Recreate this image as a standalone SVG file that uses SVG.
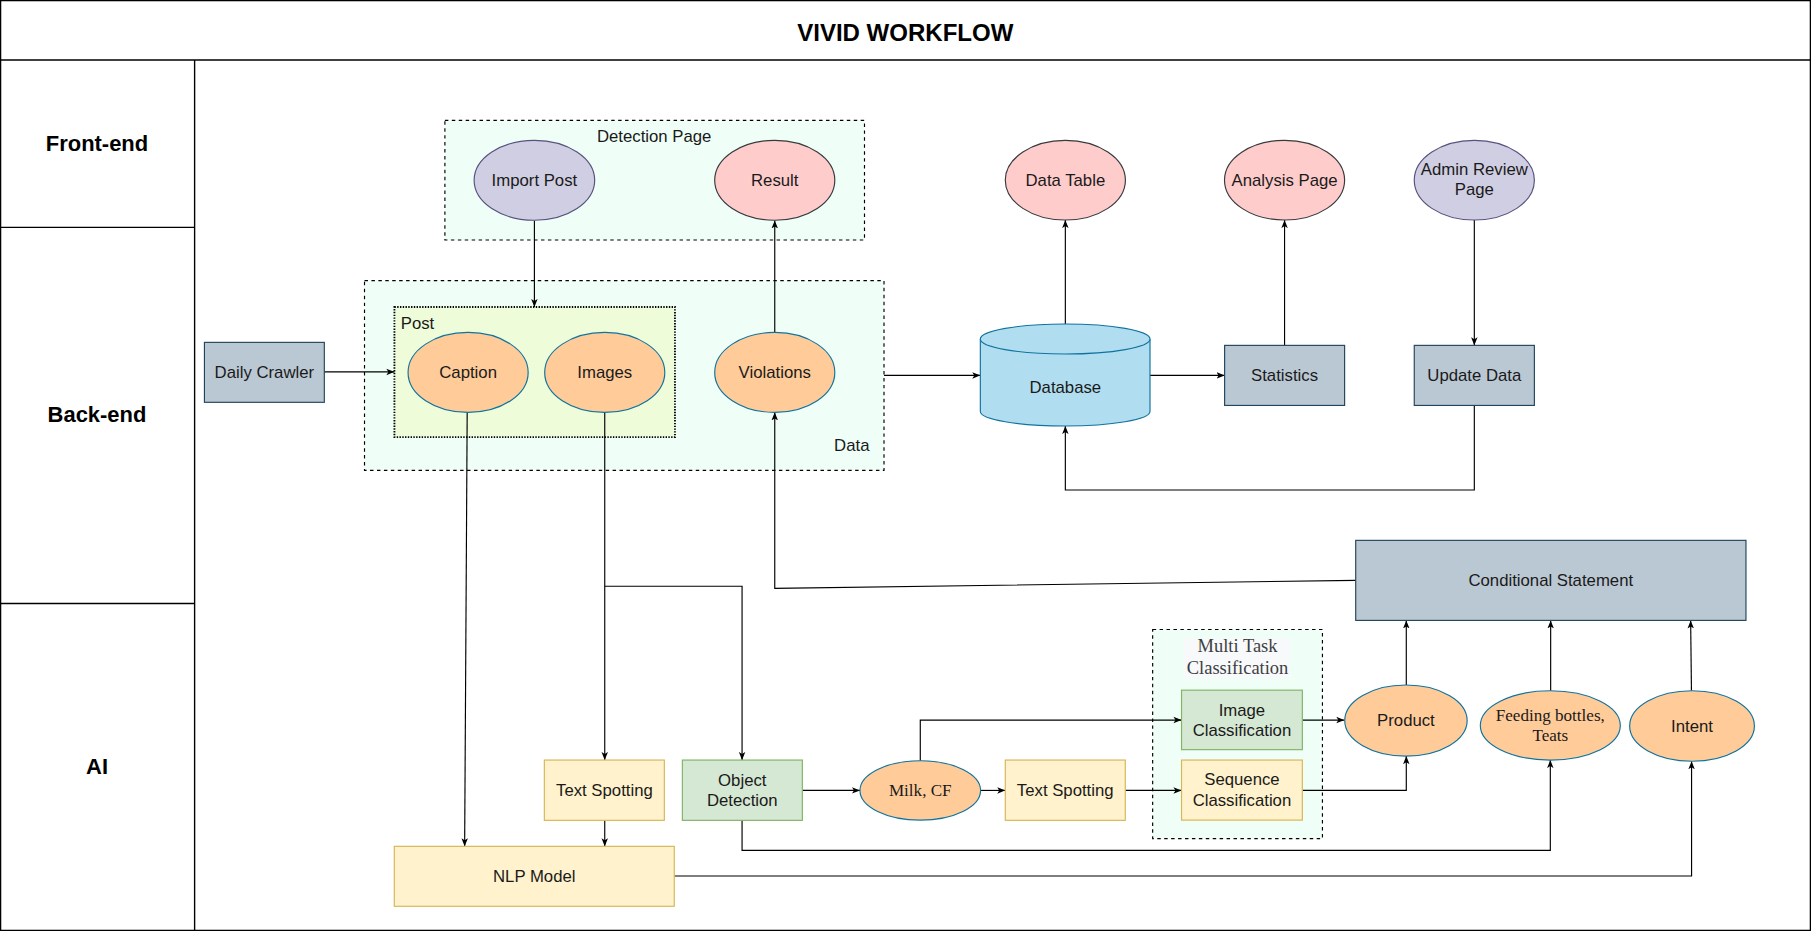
<svg xmlns="http://www.w3.org/2000/svg" width="1811" height="931" viewBox="0 0 1811 931">
<defs>
<marker id="arr" viewBox="0 0 10 10" refX="10" refY="5" markerWidth="7" markerHeight="7" orient="auto" markerUnits="userSpaceOnUse">
<path d="M0,1 L10,5 L0,9 L2.5,5 Z" fill="#000"/>
</marker>
<style>
.t{font-family:"Liberation Sans",Arial,sans-serif;font-size:14.5px;fill:#1a1a1a;text-anchor:middle}
.s{font-family:"Liberation Serif","Times New Roman",serif;font-size:14.8px;fill:#1a1a1a;text-anchor:middle}
.lane{font-family:"Liberation Sans",Arial,sans-serif;font-size:19px;font-weight:bold;fill:#000;text-anchor:middle}
.ln{fill:none;stroke:#000;stroke-width:1}
.cn{fill:none;stroke:#000;stroke-width:1;marker-end:url(#arr)}
.purple{fill:#D0CEE2;stroke:#56517E;stroke-width:1}
.pink{fill:#FFCCCC;stroke:#36393D;stroke-width:1}
.orange{fill:#FFCC99;stroke:#10739E;stroke-width:1}
.gray{fill:#BAC8D3;stroke:#23445D;stroke-width:1}
.green{fill:#D5E8D4;stroke:#82B366;stroke-width:1}
.yellow{fill:#FFF2CC;stroke:#D6B656;stroke-width:1}
.db{fill:#B1DDF0;stroke:#10739E;stroke-width:1}
.cont{fill:#EFFFF7;stroke:#000;stroke-width:1;stroke-dasharray:3 3}
.post{fill:#EEFCDA;stroke:#000;stroke-width:1.6;stroke-dasharray:1.2 1.2}
</style>
</defs>
<rect x="0" y="0" width="1811" height="931" fill="#fff"/>
<g transform="scale(1.15497,1.15509)">
<g id="frame">
<rect x="0.5" y="0.5" width="1567" height="805" fill="none" stroke="#000" stroke-width="1.2"/>
<line x1="0" y1="52" x2="1568" y2="52" stroke="#000" stroke-width="1.2"/>
<line x1="168.5" y1="52" x2="168.5" y2="806" stroke="#000" stroke-width="1.2"/>
<line x1="0" y1="196.8" x2="168.5" y2="196.8" stroke="#000" stroke-width="1.2"/>
<line x1="0" y1="522.5" x2="168.5" y2="522.5" stroke="#000" stroke-width="1.2"/>
<text x="783.8" y="35.2" style="font-family:'Liberation Sans',Arial,sans-serif;font-size:20.8px;font-weight:bold;text-anchor:middle">VIVID WORKFLOW</text>
<text class="lane" x="84" y="130.5">Front-end</text>
<text class="lane" x="84" y="365">Back-end</text>
<text class="lane" x="84" y="670.5">AI</text>
</g>

<g id="detection-page">
<rect class="cont" x="385.2" y="104.2" width="363.3" height="103.6"/>
<text class="t" x="566.4" y="122.7">Detection Page</text>
</g>
<g id="data-container">
<rect class="cont" x="315.6" y="243" width="449.8" height="164.2"/>
<text class="t" x="737.5" y="390.2">Data</text>
</g>
<g id="post-container">
<rect class="post" x="341.5" y="265.8" width="242.9" height="112.6"/>
<text x="347" y="284.9" style="font-family:'Liberation Sans',Arial,sans-serif;font-size:14.5px;fill:#1a1a1a">Post</text>
</g>
<g id="multi-task">
<rect class="cont" x="998" y="545" width="147" height="181"/>
<rect x="1025" y="552.6" width="92" height="34.7" fill="#F8F9FA"/>
<text x="1071.5" y="564.8" style="font-family:'Liberation Serif','Times New Roman',serif;font-size:16px;fill:#3c4043;text-anchor:middle">Multi Task</text>
<text x="1071.5" y="583.5" style="font-family:'Liberation Serif','Times New Roman',serif;font-size:16px;fill:#3c4043;text-anchor:middle">Classification</text>
</g>

<g id="connectors">
<path class="cn" d="M280.8,322 L341.5,322"/>
<path class="cn" d="M462.7,190.8 L462.7,265.8"/>
<path class="cn" d="M670.8,287.7 L670.8,190.8"/>
<path class="cn" d="M765.4,325 L848.8,325"/>
<path class="cn" d="M922.4,280.5 L922.4,190.5"/>
<path class="cn" d="M995.7,325 L1060.3,325"/>
<path class="cn" d="M1112.2,299 L1112.2,190.5"/>
<path class="cn" d="M1276.5,190.5 L1276.5,299"/>
<path class="cn" d="M1276.5,351 L1276.5,424.2 L922.4,424.2 L922.4,368.8"/>
<path class="cn" d="M404.5,357 L402.3,732.7"/>
<path class="cn" d="M523.6,357 L523.6,658"/>
<path class="cn" d="M523.6,507.5 L642.5,507.5 L642.5,658"/>
<path class="cn" d="M523.6,710.2 L523.6,732.7"/>
<path class="cn" d="M694.7,684.3 L744.6,684.3"/>
<path class="cn" d="M849.1,684.3 L870.4,684.3"/>
<path class="cn" d="M974.3,684.3 L1023,684.3"/>
<path class="cn" d="M796.8,658.6 L796.8,623.4 L1023,623.4"/>
<path class="cn" d="M1127.6,623.4 L1164,623.4"/>
<path class="cn" d="M1127.6,684.3 L1217.6,684.3 L1217.6,654.6"/>
<path class="cn" d="M1217.6,593 L1217.6,537.1"/>
<path class="cn" d="M1342.6,598 L1342.6,537.1"/>
<path class="cn" d="M1464.5,598 L1463.8,537.1"/>
<path class="cn" d="M642.5,710.2 L642.5,736.2 L1342.3,736.2 L1342.3,658"/>
<path class="cn" d="M583.8,758.4 L1464.6,758.4 L1464.6,659"/>
<path class="cn" d="M1173.8,502.4 L670.8,509.4 L670.8,357"/>
</g>

<g id="import-post">
<ellipse class="purple" cx="462.7" cy="156.1" rx="52.2" ry="34.6"/>
<text class="t" x="462.7" y="161.1">Import Post</text>
</g>
<g id="result">
<ellipse class="pink" cx="670.8" cy="156.1" rx="52" ry="34.6"/>
<text class="t" x="670.8" y="161.1">Result</text>
</g>
<g id="daily-crawler">
<rect class="gray" x="177" y="296.4" width="103.8" height="51.9"/>
<text class="t" x="228.9" y="327.3">Daily Crawler</text>
</g>
<g id="caption">
<ellipse class="orange" cx="405.3" cy="322.4" rx="52" ry="34.6"/>
<text class="t" x="405.3" y="327.4">Caption</text>
</g>
<g id="images">
<ellipse class="orange" cx="523.6" cy="322.4" rx="52" ry="34.6"/>
<text class="t" x="523.6" y="327.4">Images</text>
</g>
<g id="violations">
<ellipse class="orange" cx="670.8" cy="322.4" rx="52" ry="34.6"/>
<text class="t" x="670.8" y="327.4">Violations</text>
</g>
<g id="database">
<path class="db" d="M848.8,293.5 A73.45,13 0 0 1 995.7,293.5 L995.7,356.3 A73.45,12.5 0 0 1 848.8,356.3 Z"/>
<path class="db" d="M848.8,293.5 A73.45,13 0 0 0 995.7,293.5" fill="none"/>
<text class="t" x="922.4" y="340">Database</text>
</g>
<g id="data-table">
<ellipse class="pink" cx="922.4" cy="156" rx="52" ry="34.5"/>
<text class="t" x="922.4" y="161">Data Table</text>
</g>
<g id="analysis-page">
<ellipse class="pink" cx="1112.2" cy="156" rx="52" ry="34.5"/>
<text class="t" x="1112.2" y="161">Analysis Page</text>
</g>
<g id="admin-review-page">
<ellipse class="purple" cx="1276.5" cy="156" rx="52" ry="34.5"/>
<text class="t" x="1276.5" y="151.5">Admin Review</text>
<text class="t" x="1276.5" y="168.9">Page</text>
</g>
<g id="statistics">
<rect class="gray" x="1060.3" y="299" width="103.9" height="52"/>
<text class="t" x="1112.2" y="330">Statistics</text>
</g>
<g id="update-data">
<rect class="gray" x="1224.5" y="299" width="104" height="52"/>
<text class="t" x="1276.5" y="330">Update Data</text>
</g>

<g id="conditional-statement">
<rect class="gray" x="1173.8" y="467.8" width="337.9" height="69.3"/>
<text class="t" x="1342.7" y="507.4">Conditional Statement</text>
</g>
<g id="text-spotting-1">
<rect class="yellow" x="471.3" y="658" width="103.9" height="52.2"/>
<text class="t" x="523.3" y="689.2">Text Spotting</text>
</g>
<g id="object-detection">
<rect class="green" x="590.8" y="658" width="103.9" height="52.2"/>
<text class="t" x="642.7" y="680.4">Object</text>
<text class="t" x="642.7" y="697.8">Detection</text>
</g>
<g id="nlp-model">
<rect class="yellow" x="341.4" y="732.7" width="242.4" height="51.9"/>
<text class="t" x="462.6" y="763.6">NLP Model</text>
</g>
<g id="milk-cf">
<ellipse class="orange" cx="796.8" cy="684.3" rx="52.2" ry="25.7"/>
<text class="s" x="796.8" y="688.8">Milk, CF</text>
</g>
<g id="text-spotting-2">
<rect class="yellow" x="870.4" y="658" width="103.9" height="52.2"/>
<text class="t" x="922.3" y="689.2">Text Spotting</text>
</g>
<g id="image-classification">
<rect class="green" x="1023" y="597.5" width="104.6" height="51.5"/>
<text class="t" x="1075.3" y="619.6">Image</text>
<text class="t" x="1075.3" y="637">Classification</text>
</g>
<g id="sequence-classification">
<rect class="yellow" x="1023" y="658" width="104.6" height="52"/>
<text class="t" x="1075.3" y="680">Sequence</text>
<text class="t" x="1075.3" y="697.4">Classification</text>
</g>
<g id="product">
<ellipse class="orange" cx="1217.3" cy="623.8" rx="53" ry="30.8"/>
<text class="t" x="1217.3" y="628.8">Product</text>
</g>
<g id="feeding-bottles">
<ellipse class="orange" cx="1342.3" cy="628" rx="60.6" ry="30"/>
<text class="s" x="1342.3" y="624">Feeding bottles,</text>
<text class="s" x="1342.3" y="641.3">Teats</text>
</g>
<g id="intent">
<ellipse class="orange" cx="1465" cy="628.5" rx="54" ry="30.5"/>
<text class="t" x="1465" y="633.5">Intent</text>
</g>
</g>
</svg>
